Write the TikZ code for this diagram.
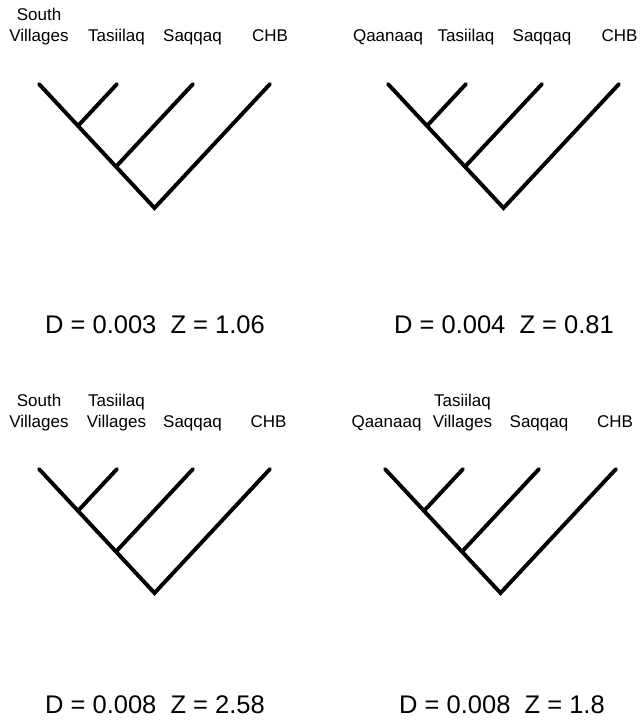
\documentclass[tikz,border=0pt]{standalone}
\usepackage{fontspec}
\setmainfont{Liberation Sans}
\usetikzlibrary{calc}
\newcommand\phylotree[3]{%
  \begin{scope}[shift={(#2,#3)}]
    \coordinate (#1a) at (39,84);
    \coordinate (#1b) at (117,84);
    \coordinate (#1c) at (193,84);
    \coordinate (#1d) at (270,84);
    \coordinate (#1r) at (154.5,208);
    \coordinate (#1m) at ($(#1a)!0.3377!(#1r)$);
    \coordinate (#1n) at ($(#1a)!0.6667!(#1r)$);
    \draw[branch] (#1a) -- (#1r) -- (#1d);
    \draw[branch] (#1b) -- (#1m);
    \draw[branch] (#1c) -- (#1n);
  \end{scope}}
\begin{document}
\begin{tikzpicture}[x=1pt,y=-1pt,
  branch/.style={line width=3.9pt, line cap=round, line join=miter},
  lbl/.style={anchor=base, inner sep=0pt, font=\fontsize{17}{20}\selectfont},
  stat/.style={anchor=base, inner sep=0pt, font=\fontsize{25.5}{30}\selectfont}]
\useasboundingbox (0,0) rectangle (640,721);

% trees
\phylotree{ta}{0}{0}
\phylotree{tb}{349}{0}
\phylotree{tc}{0}{385}
\phylotree{td}{346}{385}

% labels, top-left
\node[lbl] (la1) at (39,20) {South};
\node[lbl] (la2) at (39,41.5) {Villages};
\node[lbl] (la3) at (116.5,41.5) {Tasiilaq};
\node[lbl] (la4) at (192.5,41.5) {Saqqaq};
\node[lbl] (la5) at (270,41.5) {CHB};
% labels, top-right
\node[lbl] (lb1) at (388,41.5) {Qaanaaq};
\node[lbl] (lb2) at (466,41.5) {Tasiilaq};
\node[lbl] (lb3) at (542,41.5) {Saqqaq};
\node[lbl] (lb4) at (619.5,41.5) {CHB};
% labels, bottom-left
\node[lbl] (lc1) at (39,406) {South};
\node[lbl] (lc2) at (39,427.5) {Villages};
\node[lbl] (lc3) at (116.5,406) {Tasiilaq};
\node[lbl] (lc4) at (116.5,427.5) {Villages};
\node[lbl] (lc5) at (192.5,427.5) {Saqqaq};
\node[lbl] (lc6) at (268.5,427.5) {CHB};
% labels, bottom-right
\node[lbl] (ld1) at (386.5,427.5) {Qaanaaq};
\node[lbl] (ld2) at (462.5,406) {Tasiilaq};
\node[lbl] (ld3) at (462.5,427.5) {Villages};
\node[lbl] (ld4) at (539,427.5) {Saqqaq};
\node[lbl] (ld5) at (615,427.5) {CHB};

% statistics
\node[stat] (sa) at (155,333) {D = 0.003~~Z = 1.06};
\node[stat] (sb) at (504,333) {D = 0.004~~Z = 0.81};
\node[stat] (sc) at (155,713) {D = 0.008~~Z = 2.58};
\node[stat] (sd) at (502,713) {D = 0.008~~Z = 1.8};
\end{tikzpicture}
\end{document}
